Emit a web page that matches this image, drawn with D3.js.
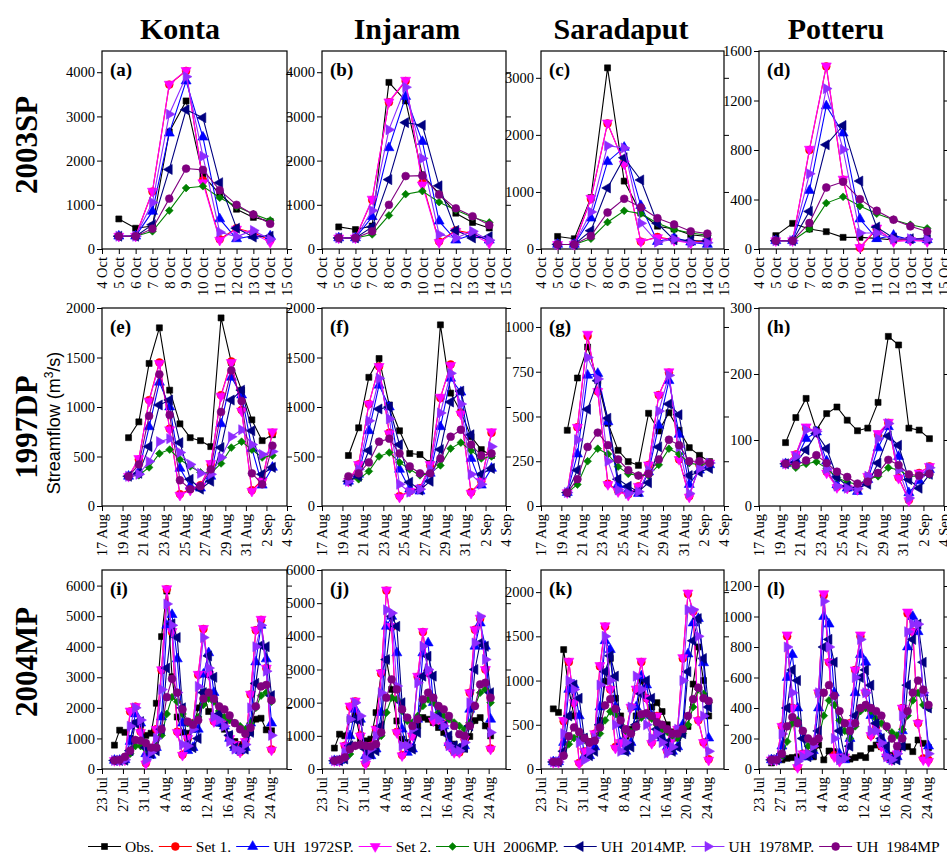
<!DOCTYPE html>
<html><head><meta charset="utf-8">
<script src="https://cdn.jsdelivr.net/npm/d3@7"></script>
<style>body{margin:0;background:#fff}svg{display:block}</style>
</head><body>
<svg id="c" width="947" height="854"></svg>
<script>
// ---------- categories / tick labels ----------
const basins = ["Konta", "Injaram", "Saradaput", "Potteru"];
const events = ["2003SP", "1997DP", "2004MP"];
const seriesNames = ["Obs.", "Set 1.", "UH  1972SP.", "Set 2.", "UH  2006MP.", "UH  2014MP.", "UH  1978MP.", "UH  1984MP"];

const spDates = ["2003-10-05","2003-10-06","2003-10-07","2003-10-08","2003-10-09","2003-10-10","2003-10-11","2003-10-12","2003-10-13","2003-10-14"];
const dpDates = ["1997-08-19T14:00","1997-08-20T14:00","1997-08-21T14:00","1997-08-22T14:00","1997-08-23T14:00","1997-08-24T14:00","1997-08-25T14:00","1997-08-26T14:00","1997-08-27T14:00","1997-08-28T14:00","1997-08-29T14:00","1997-08-30T14:00","1997-08-31T14:00","1997-09-01T14:00","1997-09-02T14:00"];
const mpDates = ["2004-07-25T09:00","2004-07-26T09:00","2004-07-27T09:00","2004-07-28T09:00","2004-07-29T09:00","2004-07-30T09:00","2004-07-31T09:00","2004-08-01T09:00","2004-08-02T09:00","2004-08-03T09:00","2004-08-04T09:00","2004-08-05T09:00","2004-08-06T09:00","2004-08-07T09:00","2004-08-08T09:00","2004-08-09T09:00","2004-08-10T09:00","2004-08-11T09:00","2004-08-12T09:00","2004-08-13T09:00","2004-08-14T09:00","2004-08-15T09:00","2004-08-16T09:00","2004-08-17T09:00","2004-08-18T09:00","2004-08-19T09:00","2004-08-20T09:00","2004-08-21T09:00","2004-08-22T09:00","2004-08-23T09:00","2004-08-24T09:00"];

const spTickDates = ["2003-10-04","2003-10-05","2003-10-06","2003-10-07","2003-10-08","2003-10-09","2003-10-10","2003-10-11","2003-10-12","2003-10-13","2003-10-14","2003-10-15"];
const spTickLabels = ["4 Oct","5 Oct","6 Oct","7 Oct","8 Oct","9 Oct","10 Oct","11 Oct","12 Oct","13 Oct","14 Oct","15 Oct"];
const dpTickDates = ["1997-08-17","1997-08-19","1997-08-21","1997-08-23","1997-08-25","1997-08-27","1997-08-29","1997-08-31","1997-09-02","1997-09-04"];
const dpTickLabels = ["17 Aug","19 Aug","21 Aug","23 Aug","25 Aug","27 Aug","29 Aug","31 Aug","2 Sep","4 Sep"];
const mpTickDates = ["2004-07-23","2004-07-27","2004-07-31","2004-08-04","2004-08-08","2004-08-12","2004-08-16","2004-08-20","2004-08-24"];
const mpTickLabels = ["23 Jul","27 Jul","31 Jul","4 Aug","8 Aug","12 Aug","16 Aug","20 Aug","24 Aug"];

const yTicksA = [0,1000,2000,3000,4000];
const yTicksC = [0,1000,2000,3000];
const yTicksD = [0,400,800,1200,1600];
const yTicksE = [0,500,1000,1500,2000];
const yTicksG = [0,250,500,750,1000];
const yTicksH = [0,100,200,300];
const yTicksI = [0,1000,2000,3000,4000,5000,6000];
const yTicksK = [0,500,1000,1500,2000];
const yTicksL = [0,200,400,600,800,1000,1200];

// ---------- (a) Konta 2003SP ----------
const a_obs    = [680,470,520,2650,3350,1660,1250,900,715,625];
const a_set1   = [290,290,1300,3720,4030,1550,220,470,370,200];
const a_uh1972 = [290,290,850,2620,3800,2530,680,230,300,290];
const a_set2   = [290,290,1310,3730,4040,1500,200,450,350,150];
const a_uh2006 = [290,290,400,870,1380,1420,1160,960,790,650];
const a_uh2014 = [290,290,550,1800,3150,2970,1500,470,270,290];
const a_uh1978 = [290,290,1050,3050,3900,2100,380,280,420,220];
const a_uh1984 = [290,290,460,1140,1820,1790,1330,1000,780,570];
// ---------- (b) Injaram 2003SP ----------
const b_obs    = [500,440,520,3770,3350,1680,1250,810,600,475];
const b_set1   = [250,250,1110,3320,3800,1500,170,420,350,180];
const b_uh1972 = [250,250,730,2290,3450,2430,630,200,330,200];
const b_set2   = [250,250,1130,3330,3820,1450,150,400,330,130];
const b_uh2006 = [250,250,330,760,1240,1310,1060,880,720,600];
const b_uh2014 = [250,250,500,1570,2860,2800,1430,420,250,280];
const b_uh1978 = [250,250,870,2700,3660,2050,330,250,400,200];
const b_uh1984 = [250,250,400,1000,1650,1660,1230,920,740,540];
// ---------- (c) Saradaput 2003SP ----------
const c_obs    = [220,180,900,3175,1190,630,400,350,250,220];
const c_set1   = [80,80,880,2200,1500,130,210,160,120,140];
const c_uh1972 = [80,80,540,1530,1780,760,130,200,120,80];
const c_set2   = [80,80,890,2210,1490,130,200,150,100,130];
const c_uh2006 = [80,80,180,470,670,620,450,340,280,240];
const c_uh2014 = [80,80,320,1070,1600,1210,450,160,150,140];
const c_uh1978 = [80,80,650,1810,1770,450,120,170,110,110];
const c_uh1984 = [80,80,230,640,880,730,540,430,310,270];
// ---------- (d) Potteru 2003SP ----------
const d_obs    = [108,207,161,140,94,94,86,73,80,89];
const d_set1   = [67,67,800,1475,560,10,160,70,75,70];
const d_uh1972 = [67,67,473,1156,936,242,83,110,75,75];
const d_set2   = [67,67,807,1480,565,13,170,60,70,60];
const d_uh2006 = [67,67,161,371,422,347,285,237,196,167];
const d_uh2014 = [67,67,304,842,998,549,177,89,83,80];
const d_uh1978 = [67,67,608,1296,804,129,129,80,83,78];
const d_uh1984 = [67,67,210,497,543,403,309,237,183,142];
// ---------- (e) Konta 1997DP ----------
const e_obs    = [690,850,1440,1800,1170,830,690,660,600,1900,1450,1170,870,660,720];
const e_set1   = [300,470,1070,1450,780,120,170,210,420,1120,1460,970,160,260,740];
const e_uh1972 = [300,350,800,1250,1000,380,200,180,300,830,1300,1120,580,210,390];
const e_set2   = [300,480,1060,1440,770,110,160,200,430,1110,1450,960,150,250,750];
const e_uh2006 = [300,310,390,530,570,470,400,340,330,430,590,650,570,490,510];
const e_uh2014 = [300,330,600,1020,1070,640,270,170,250,590,1070,1170,760,320,390];
const e_uh1978 = [300,320,450,650,680,540,420,330,320,490,700,770,620,520,550];
const e_uh1984 = [300,420,910,1330,920,260,170,200,370,950,1370,1060,330,220,610];
// ---------- (f) Injaram 1997DP ----------
const f_obs    = [510,790,1300,1490,1020,760,530,520,430,1830,1140,950,700,570,510];
const f_set1   = [250,420,1030,1410,740,100,150,180,410,1090,1430,940,140,250,740];
const f_uh1972 = [250,320,760,1220,1000,370,170,150,330,800,1290,1150,480,210,380];
const f_set2   = [250,420,1030,1410,730,90,150,180,420,1100,1420,930,130,250,750];
const f_uh2006 = [280,270,350,500,540,440,370,310,330,410,580,640,560,480,500];
const f_uh2014 = [250,300,560,980,1000,620,240,160,250,570,1050,1160,720,320,380];
const f_uh1978 = [250,370,860,1290,880,220,140,170,370,940,1340,1030,320,220,600];
const f_uh1984 = [300,330,440,650,680,530,400,330,330,480,700,770,620,510,530];
// ---------- (g) Saradaput 1997DP ----------
const g_obs    = [423,715,888,700,462,311,248,227,518,419,521,423,326,283,248];
const g_set1   = [75,440,950,640,125,85,65,110,230,620,745,260,55,230,240];
const g_uh1972 = [75,290,730,740,470,120,90,70,190,450,700,400,120,200,230];
const g_set2   = [75,440,960,640,120,80,60,110,230,620,750,260,50,230,240];
const g_uh2006 = [75,120,250,320,290,220,180,170,170,230,320,290,240,230,240];
const g_uh2014 = [75,200,540,700,490,150,110,80,130,330,570,510,170,190,210];
const g_uh1978 = [75,370,830,710,250,90,70,80,200,530,730,330,70,210,240];
const g_uh1984 = [75,150,330,410,340,260,200,170,180,260,370,340,250,250,240];
// ---------- (h) Potteru 1997DP ----------
const h_obs    = [96,134,163,115,140,150,130,114,118,157,257,244,118,115,102];
const h_set1   = [64,78,118,112,52,29,27,25,45,108,126,43,9,50,60];
const h_uh1972 = [64,70,102,112,68,32,27,22,40,88,120,75,20,38,55];
const h_set2   = [64,78,120,112,50,28,27,25,45,110,127,42,8,50,60];
const h_uh2006 = [64,58,64,67,57,43,36,33,40,45,58,55,45,45,47];
const h_uh2014 = [64,66,85,110,87,44,30,27,33,65,106,92,40,27,48];
const h_uh1978 = [64,75,115,113,56,30,27,26,45,102,125,55,12,45,58];
const h_uh1984 = [64,62,69,77,65,52,44,34,37,50,70,62,48,46,49];
// ---------- (i) Konta 2004MP ----------
const i_obs    = [780,1270,1200,1000,1500,1450,1100,1170,2150,4330,5820,3020,1700,1200,1170,1300,2000,2510,1880,1700,1500,1300,1120,900,800,790,1200,1630,1660,1280,1250];
const i_set1   = [280,280,300,1880,2040,1220,190,620,1300,3230,5880,4480,1220,470,1000,1500,3080,4580,3100,1560,1700,1500,1000,800,560,900,2440,4540,4880,3300,640];
const i_uh1972 = [280,280,300,900,1800,1500,500,450,700,1700,4700,5050,3600,1500,600,700,1300,3100,3800,2500,1500,1400,1000,700,600,700,1500,3500,4700,3600,1500];
const i_set2   = [280,280,300,1900,2050,1200,170,600,1300,3250,5900,4500,1200,450,1000,1500,3100,4600,3100,1550,1700,1500,1000,800,550,900,2450,4550,4900,3300,620];
const i_uh2006 = [280,280,300,500,750,750,650,600,750,1100,1800,2350,2200,1800,1500,1500,1700,2100,2300,2200,1900,1700,1600,1500,1400,1300,1500,2000,2400,2500,2200];
const i_uh2014 = [280,280,290,600,1500,1550,700,500,600,1300,3300,4750,4300,2000,800,700,1000,2500,3700,3000,1800,1400,1100,700,650,650,1200,2800,4050,4000,2400];
const i_uh1978 = [280,280,300,1400,2000,1600,300,550,1000,2600,5400,4700,2500,800,750,1300,2700,4300,3300,1700,1600,1400,900,650,600,800,2000,4000,4700,3200,1100];
const i_uh1984 = [280,300,400,600,950,930,850,700,700,1300,2350,2950,2500,1950,1550,1450,1600,2300,2500,2300,2050,1950,1750,1500,1300,1150,1350,2050,2700,2750,2250];
// ---------- (j) Injaram 2004MP ----------
const j_obs    = [630,1050,1000,1500,1680,900,850,900,1700,2900,3300,2400,1450,900,800,1000,1300,1550,1500,1400,1250,1100,900,750,620,600,980,1460,1550,1300,1000];
const j_set1   = [250,250,700,1880,2040,1020,170,700,1200,2880,5380,4280,1120,420,700,1000,2780,4130,2900,1460,1500,1350,700,520,500,900,2300,4200,4530,3000,620];
const j_uh1972 = [250,250,400,1000,1800,1500,400,400,600,1700,4300,4600,3500,1200,500,600,1500,3500,3800,2000,1500,1300,800,600,600,700,1800,3700,4400,3700,1500];
const j_set2   = [250,250,700,1900,2050,1000,150,700,1200,2900,5400,4300,1100,400,700,1000,2800,4150,2900,1450,1500,1350,700,500,500,900,2300,4200,4550,3000,600];
const j_uh2006 = [250,250,300,450,700,750,650,600,750,1000,1700,2150,2100,1750,1450,1400,1600,1900,2100,2000,1700,1600,1500,1400,1300,1200,1400,1900,2300,2400,2000];
const j_uh2014 = [250,250,300,700,1500,1450,600,450,550,1300,3300,4600,4300,2000,700,600,1100,2800,3400,2800,1600,1300,1000,700,650,650,1300,3000,3800,3700,2300];
const j_uh1978 = [250,250,500,1500,2000,1600,300,600,1000,2300,4800,4700,2500,700,700,1200,2600,3700,3000,1600,1500,1300,700,550,550,800,2000,3800,4600,3300,1100];
const j_uh1984 = [250,280,350,600,700,730,700,680,750,1100,2150,2700,2400,1800,1550,1300,1500,2100,2300,2150,1900,1800,1600,1300,1050,1000,1300,1900,2550,2600,2150];
// ---------- (k) Saradaput 2004MP ----------
const k_obs    = [680,640,1350,900,600,400,355,310,350,550,990,1250,800,600,370,450,600,1000,800,700,750,650,500,420,350,400,480,960,1380,1000,600];
const k_set1   = [80,80,540,1210,750,70,200,300,400,1160,1610,900,250,300,400,700,900,1210,800,300,600,450,200,350,450,1250,1980,1780,550,300,110];
const k_uh1972 = [80,80,300,900,950,600,150,150,250,700,1450,1350,700,300,200,300,700,1050,950,600,400,350,250,200,250,500,1300,1650,1700,1200,350];
const k_set2   = [75,75,550,1220,750,60,200,300,400,1170,1620,900,235,300,400,700,905,1220,800,290,600,450,190,350,450,1260,1990,1780,550,300,100];
const k_uh2006 = [80,80,150,280,350,350,330,300,320,400,550,650,620,500,430,420,500,580,620,570,500,450,420,380,350,400,500,700,900,850,750];
const k_uh2014 = [80,80,200,600,950,800,350,150,200,500,1100,1280,1050,500,200,250,500,850,1000,800,450,350,300,200,250,400,1100,1450,1700,1250,700];
const k_uh1978 = [80,80,400,1000,900,300,100,200,350,950,1500,1000,500,200,300,700,1050,900,500,350,400,300,180,250,450,1000,1800,1800,1500,600,200];
const k_uh1984 = [80,80,150,370,470,420,350,300,320,470,720,790,680,550,450,400,480,620,630,600,530,500,450,400,400,450,600,790,920,800,770];
// ---------- (l) Potteru 2004MP ----------
const l_obs    = [40,70,60,70,75,80,80,90,80,157,60,118,114,70,70,65,75,87,75,135,157,146,100,90,80,146,146,114,190,168,140];
const l_set1   = [60,60,280,870,400,15,100,100,150,500,1140,700,90,60,80,300,650,870,500,220,280,150,80,60,100,400,1020,900,300,70,60];
const l_uh1972 = [60,60,150,600,750,400,80,80,120,400,1000,950,500,100,60,200,500,750,700,350,250,200,100,60,80,250,800,1000,900,500,150];
const l_set2   = [60,60,280,880,400,10,100,100,150,500,1150,700,80,50,80,300,650,880,500,220,280,150,80,60,100,400,1030,900,300,60,50];
const l_uh2006 = [60,60,80,180,300,320,250,150,120,200,350,450,420,320,250,200,280,380,400,380,330,300,270,240,220,260,350,450,500,420,400];
const l_uh2014 = [60,60,100,400,650,580,200,80,100,250,800,850,700,250,80,150,350,600,650,550,300,200,150,60,60,150,550,850,950,700,400];
const l_uh1978 = [60,60,230,800,500,50,80,100,150,500,1100,800,200,60,70,280,600,850,500,250,250,170,80,60,100,350,900,950,950,500,100];
const l_uh1984 = [60,60,100,280,340,300,250,200,180,200,500,550,480,380,300,250,300,400,420,400,380,350,280,200,150,200,380,500,580,520,420];

// ---------- build ----------
const P = s => new Date(s);
const xConf = [
  {dates: spDates, dom: ["2003-10-04","2003-10-15"], ticks: spTickDates, labels: spTickLabels},
  {dates: dpDates, dom: ["1997-08-17","1997-09-04"], ticks: dpTickDates, labels: dpTickLabels},
  {dates: mpDates, dom: ["2004-07-23","2004-08-27T08:00"], ticks: mpTickDates, labels: mpTickLabels}
];
const panels = [
  {id:"(a)", r:0, c:0, ymax:4480, yt:yTicksA, s:[a_obs,a_set1,a_uh1972,a_set2,a_uh2006,a_uh2014,a_uh1978,a_uh1984]},
  {id:"(b)", r:0, c:1, ymax:4480, yt:yTicksA, s:[b_obs,b_set1,b_uh1972,b_set2,b_uh2006,b_uh2014,b_uh1978,b_uh1984]},
  {id:"(c)", r:0, c:2, ymax:3470, yt:yTicksC, s:[c_obs,c_set1,c_uh1972,c_set2,c_uh2006,c_uh2014,c_uh1978,c_uh1984]},
  {id:"(d)", r:0, c:3, ymax:1600, yt:yTicksD, s:[d_obs,d_set1,d_uh1972,d_set2,d_uh2006,d_uh2014,d_uh1978,d_uh1984]},
  {id:"(e)", r:1, c:0, ymax:2000, yt:yTicksE, s:[e_obs,e_set1,e_uh1972,e_set2,e_uh2006,e_uh2014,e_uh1978,e_uh1984]},
  {id:"(f)", r:1, c:1, ymax:2000, yt:yTicksE, s:[f_obs,f_set1,f_uh1972,f_set2,f_uh2006,f_uh2014,f_uh1978,f_uh1984]},
  {id:"(g)", r:1, c:2, ymax:1106, yt:yTicksG, s:[g_obs,g_set1,g_uh1972,g_set2,g_uh2006,g_uh2014,g_uh1978,g_uh1984]},
  {id:"(h)", r:1, c:3, ymax:300,  yt:yTicksH, s:[h_obs,h_set1,h_uh1972,h_set2,h_uh2006,h_uh2014,h_uh1978,h_uh1984]},
  {id:"(i)", r:2, c:0, ymax:6510, yt:yTicksI, s:[i_obs,i_set1,i_uh1972,i_set2,i_uh2006,i_uh2014,i_uh1978,i_uh1984]},
  {id:"(j)", r:2, c:1, ymax:6000, yt:yTicksI, s:[j_obs,j_set1,j_uh1972,j_set2,j_uh2006,j_uh2014,j_uh1978,j_uh1984]},
  {id:"(k)", r:2, c:2, ymax:2250, yt:yTicksK, s:[k_obs,k_set1,k_uh1972,k_set2,k_uh2006,k_uh2014,k_uh1978,k_uh1984]},
  {id:"(l)", r:2, c:3, ymax:1305, yt:yTicksL, s:[l_obs,l_set1,l_uh1972,l_set2,l_uh2006,l_uh2014,l_uh1978,l_uh1984]}
];

const colors = ["#000000","#ff0000","#0000ff","#ff00ff","#008000","#000080","#8f2cff","#800080"];
const syms = ["square","circle","up","down","diamond","left","right","circle"];
const cols = [[102,287],[322,506],[541,724],[759,944]];
const rows = [[51,249],[308,506],[570,769]];
const serif = "'Liberation Serif','Times New Roman',serif";

const svg = d3.select("#c");

function marker(g, type, x, y, color) {
  let path, rot = 0;
  if (type === "square") path = d3.symbol(d3.symbolSquare, 36)();
  else if (type === "circle") path = d3.symbol(d3.symbolCircle, 48)();
  else if (type === "diamond") { path = d3.symbol(d3.symbolSquare, 30)(); rot = 45; }
  else {
    path = d3.symbol(d3.symbolTriangle, 44)();
    rot = {up:0, down:180, left:-90, right:90}[type];
  }
  g.append("path").attr("d", path)
    .attr("transform", `translate(${x},${y}) rotate(${rot})`)
    .attr("fill", color).attr("stroke", color).attr("stroke-width", 0.6);
}

panels.forEach(p => {
  const [L, R] = cols[p.c], [T, B] = rows[p.r];
  const xc = xConf[p.r];
  const x = d3.scaleTime().domain(xc.dom.map(P)).range([L, R]);
  const y = d3.scaleLinear().domain([0, p.ymax]).range([B, T]);
  const g = svg.append("g");

  const ya = g.append("g").attr("transform", `translate(${L},0)`)
    .call(d3.axisLeft(y).tickValues(p.yt).tickSize(5).tickPadding(2).tickFormat(d3.format("d")));
  ya.select(".domain").remove();
  ya.selectAll("text").style("font-family", serif).style("font-size", "14.5px").attr("fill", "#000");
  const yr = g.append("g").attr("transform", `translate(${R},0)`)
    .call(d3.axisRight(y).tickValues(p.yt).tickSize(5).tickFormat(""));
  yr.select(".domain").remove();
  const xa = g.append("g").attr("transform", `translate(0,${B})`)
    .call(d3.axisBottom(x).tickValues(xc.ticks.map(P)).tickSize(5).tickFormat((d, i) => xc.labels[i]));
  xa.select(".domain").remove();
  xa.selectAll("text").style("font-family", serif).style("font-size", "14.5px").attr("fill", "#000")
    .attr("transform", "rotate(-90)").attr("x", -8).attr("y", 0).attr("dy", "0.33em")
    .style("text-anchor", "end");
  g.append("rect").attr("x", L).attr("y", T).attr("width", R - L).attr("height", B - T)
    .attr("fill", "none").attr("stroke", "#000").attr("stroke-width", 1.2);

  const dates = xc.dates.map(P);
  p.s.forEach((vals, si) => {
    const line = d3.line().x((d, i) => x(dates[i])).y(d => y(d));
    g.append("path").datum(vals).attr("d", line)
      .attr("fill", "none").attr("stroke", colors[si]).attr("stroke-width", 1.1);
    const mg = g.append("g");
    vals.forEach((v, i) => marker(mg, syms[si], x(dates[i]), y(v), colors[si]));
  });

  g.append("text").attr("x", L + 8).attr("y", T + 25).text(p.id)
    .style("font-family", serif).attr("font-weight", "bold").style("font-size", "19px");
});

const titleX = [180, 407, 621, 836];
basins.forEach((b, i) => {
  svg.append("text").attr("x", titleX[i]).attr("y", 39).attr("text-anchor", "middle")
    .style("font-family", serif).attr("font-weight", "bold").style("font-size", "30px").text(b);
});
const rowY = [145, 427, 662];
events.forEach((e, i) => {
  svg.append("text").attr("transform", `translate(37,${rowY[i]}) rotate(-90)`)
    .attr("text-anchor", "middle").style("font-family", serif).attr("font-weight", "bold")
    .style("font-size", "31px").text(e);
});
const yl = svg.append("text").attr("transform", "translate(60,423) rotate(-90)")
  .attr("text-anchor", "middle").style("font-family", "'Liberation Sans',Arial,sans-serif").style("font-size", "18px");
yl.append("tspan").text("Streamflow (m");
yl.append("tspan").attr("baseline-shift", "super").style("font-size", "12px").text("3");
yl.append("tspan").text("/s)");

let lx = 88;
const ly = 846.5;
seriesNames.forEach((n, i) => {
  svg.append("line").attr("x1", lx).attr("x2", lx + 33).attr("y1", ly).attr("y2", ly)
    .attr("stroke", colors[i]).attr("stroke-width", 1.2);
  marker(svg, syms[i], lx + 16.5, ly, colors[i]);
  const t = svg.append("text").attr("x", lx + 37).attr("y", ly + 5).text(n)
    .style("font-family", serif).style("font-size", "15.5px").style("white-space", "pre");
  lx += 37 + t.node().getComputedTextLength() + 5;
});
</script>
</body></html>
